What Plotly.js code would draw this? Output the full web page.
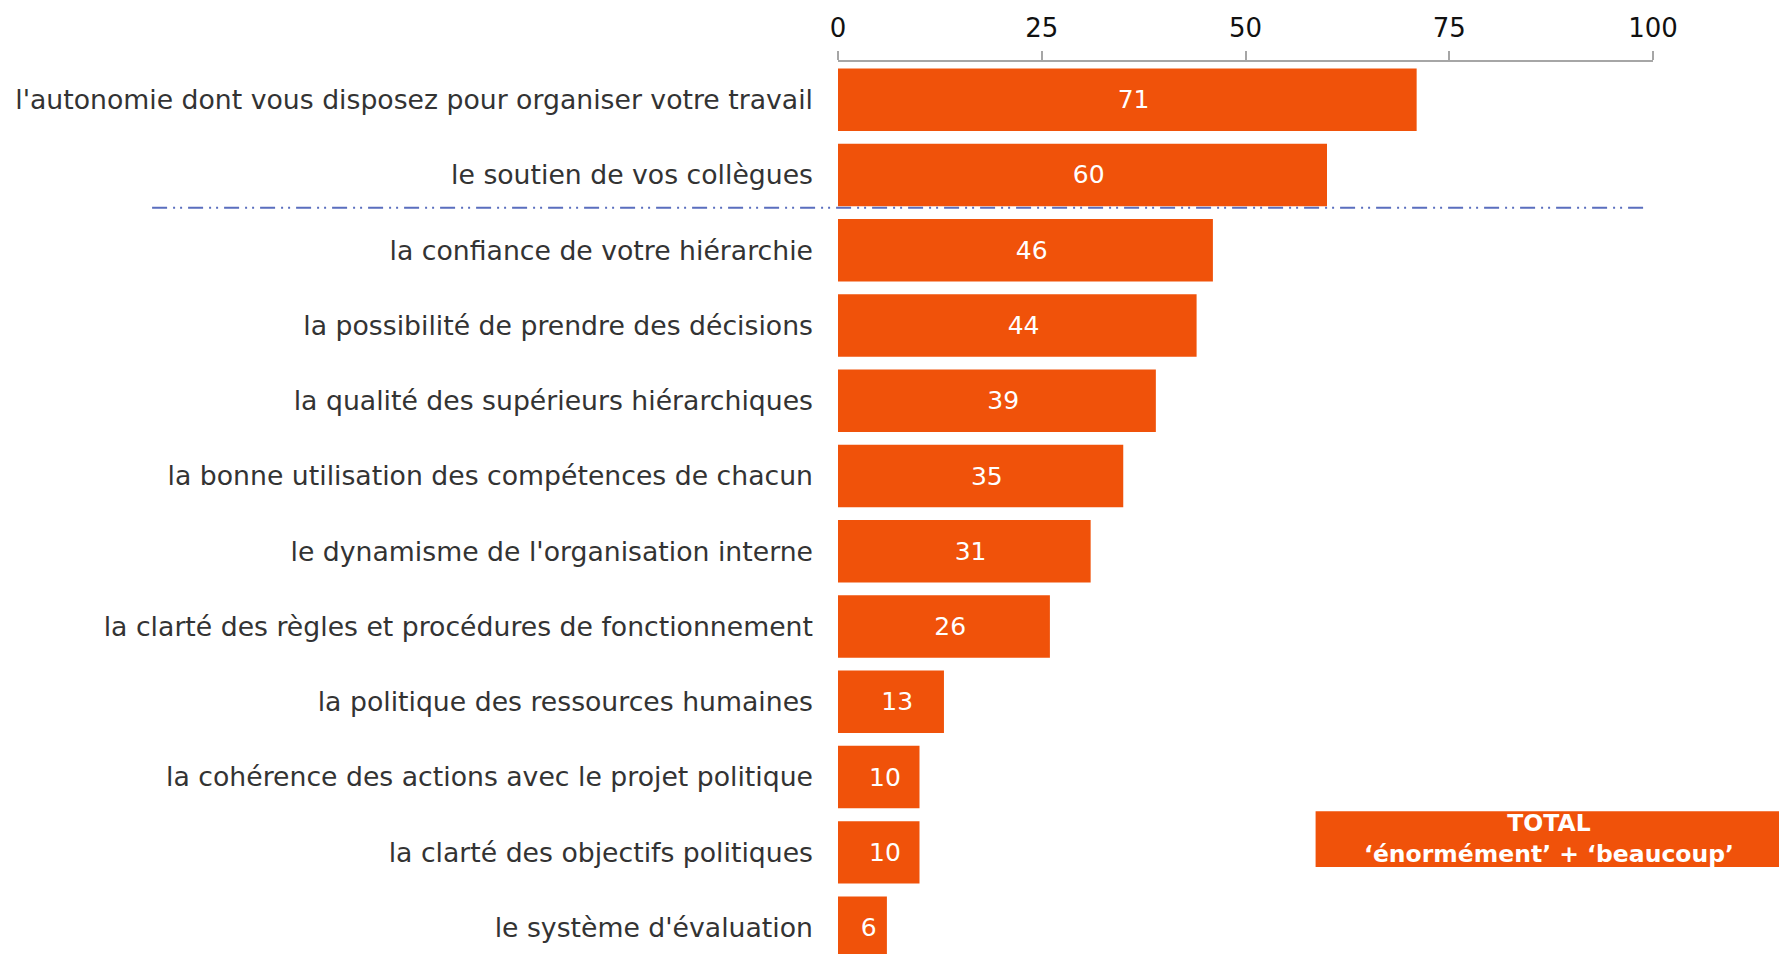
<!DOCTYPE html>
<html>
<head>
<meta charset="utf-8">
<script src="https://cdn.plot.ly/plotly-3.0.1.min.js"></script>
<style>
  html, body { margin: 0; padding: 0; background: #fff; }
  #divplot { width: 1779px; height: 954px; }
</style>
</head>
<body>
<div id="divplot"></div>
<script>
var categories = [
    "l'autonomie dont vous disposez pour organiser votre travail",
    "le soutien de vos collègues",
    "la confiance de votre hiérarchie",
    "la possibilité de prendre des décisions",
    "la qualité des supérieurs hiérarchiques",
    "la bonne utilisation des compétences de chacun",
    "le dynamisme de l'organisation interne",
    "la clarté des règles et procédures de fonctionnement",
    "la politique des ressources humaines",
    "la cohérence des actions avec le projet politique",
    "la clarté des objectifs politiques",
    "le système d'évaluation"
];
var values = [71, 60, 46, 44, 39, 35, 31, 26, 13, 10, 10, 6];
var tickVals = [0, 25, 50, 75, 100];

var orange = '#F0520A';
var font = 'DejaVu Sans, Verdana, sans-serif';

var bars = {
    x: values,
    y: categories,
    type: 'bar',
    orientation: 'h',
    marker: {color: orange, line: {width: 0}},
    // en space in front nudges the number a bit right, like the original
    text: values.map(function(v) { return '\u2002' + v; }),
    textposition: 'inside',
    insidetextanchor: 'middle',
    textangle: 0,
    constraintext: 'none',
    textfont: {family: font, size: 25, color: '#ffffff'},
    hoverinfo: 'skip'
};

var layout = {
    width: 1779,
    height: 954,
    margin: {l: 838, r: 126, t: 62, b: 0, pad: 0},
    paper_bgcolor: '#ffffff',
    plot_bgcolor: '#ffffff',
    showlegend: false,
    bargap: 0.17,
    xaxis: {
        side: 'top',
        range: [0, 100],
        tickvals: tickVals,
        ticktext: tickVals.map(String),
        showgrid: false,
        zeroline: false,
        showline: true,
        linecolor: '#a6a6a6',
        linewidth: 2,
        ticks: 'outside',
        ticklen: 9,
        tickwidth: 2,
        tickcolor: '#a6a6a6',
        ticklabelstandoff: 4,
        tickfont: {family: font, size: 26, color: '#111111'},
        fixedrange: true
    },
    yaxis: {
        type: 'category',
        range: [11.35, -0.5],
        showgrid: false,
        zeroline: false,
        showline: false,
        ticks: '',
        ticklabelstandoff: 24,
        tickfont: {family: font, size: 26.7, color: '#333333'},
        fixedrange: true
    },
    shapes: [
        {
            type: 'line', xref: 'paper', yref: 'paper',
            x0: -0.8416, x1: 0.989, y0: 0.8365, y1: 0.8365,
            line: {color: '#5a6ebe', width: 2, dash: '15px,6px,2px,5px,2px,6px'},
            layer: 'above'
        },
        {
            type: 'rect', xref: 'paper', yref: 'paper',
            x0: 0.586, x1: 1.16, y0: 0.0975, y1: 0.160,
            fillcolor: orange, line: {width: 0}, layer: 'above'
        }
    ],
    annotations: [
        {
            xref: 'paper', yref: 'paper', x: 0.872, y: 0.129,
            xanchor: 'center', yanchor: 'middle', showarrow: false,
            text: '<b>TOTAL</b><br><b>‘énormément’ + ‘beaucoup’</b>',
            align: 'center',
            font: {family: font, size: 23.5, color: '#ffffff'}
        }
    ]
};

Plotly.newPlot('divplot', [bars], layout, {displayModeBar: false, staticPlot: true});
</script>
</body>
</html>
